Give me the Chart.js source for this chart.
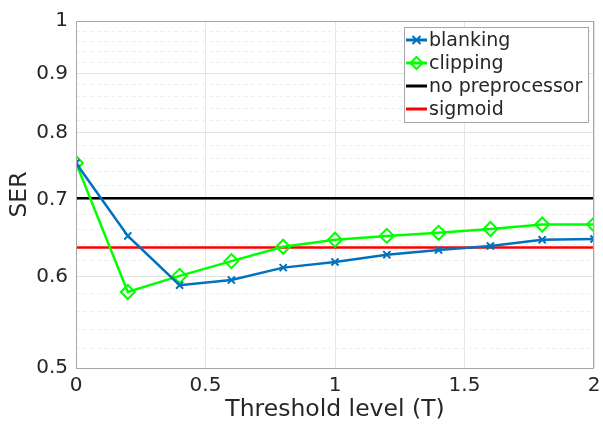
<!DOCTYPE html>
<html>
<head>
<meta charset="utf-8">
<script src="https://cdn.jsdelivr.net/npm/chart.js@4/dist/chart.umd.min.js"></script>
<style>
  html, body { margin: 0; padding: 0; background: #fff; }
  #wrap { width: 603px; height: 426px; }
</style>
</head>
<body>
<div id="wrap"><canvas id="serChart"></canvas></div>
<script>
// values
const thresholds = [0, 0.2, 0.4, 0.6, 0.8, 1.0, 1.2, 1.4, 1.6, 1.8, 2.0];
const blanking = [0.753, 0.651, 0.590, 0.596, 0.611, 0.618, 0.627, 0.633, 0.638, 0.646, 0.647];
const clipping = [0.753, 0.582, 0.601, 0.619, 0.637, 0.646, 0.651, 0.655, 0.660, 0.666, 0.666];
const noPreprocessor = [0.702, 0.702];
const sigmoid = [0.636, 0.636];
const lineRange = [0, 2];

const xTicks = [0, 0.5, 1, 1.5, 2];
const yMajorTicks = [0.5, 0.6, 0.7, 0.8, 0.9, 1];
const yMinorStep = 0.02;

const textColor = '#262626';
const axisColor = '#a6a6a6';

function pts(xs, ys) {
    return xs.map((x, i) => ({ x: x, y: ys[i] }));
}

// matlab style box round the plot area
const boxPlugin = {
    id: 'box',
    afterDraw(chart) {
        const a = chart.chartArea, ctx = chart.ctx;
        ctx.save();
        ctx.strokeStyle = axisColor;
        ctx.lineWidth = 1;
        ctx.strokeRect(a.left + 0.5, a.top + 0.5, a.right - a.left - 1, a.bottom - a.top);
        ctx.restore();
    }
};

// legend drawn inside the axes, top right
const innerLegend = {
    id: 'innerLegend',
    afterDraw(chart) {
        const a = chart.chartArea, ctx = chart.ctx;
        const sets = chart.data.datasets;
        const w = 184, rowH = 23;
        const h = sets.length * rowH + 3;
        const x0 = a.right - 6 - w, y0 = a.top + 6;
        ctx.save();
        ctx.fillStyle = '#fff';
        ctx.fillRect(x0, y0, w, h);
        ctx.strokeStyle = axisColor;
        ctx.lineWidth = 1;
        ctx.strokeRect(x0 + 0.5, y0 + 0.5, w, h);
        ctx.font = '19px "DejaVu Sans"';
        ctx.textBaseline = 'middle';
        sets.forEach((ds, i) => {
            const cy = y0 + 13 + i * rowH;
            const lx1 = x0 + 2, lx2 = x0 + 23, mx = (lx1 + lx2) / 2;
            ctx.strokeStyle = ds.borderColor;
            ctx.lineWidth = 3;
            ctx.beginPath();
            ctx.moveTo(lx1, cy);
            ctx.lineTo(lx2, cy);
            ctx.stroke();
            ctx.lineWidth = 2;
            if (ds.pointStyle === 'crossRot') {
                ctx.beginPath();
                ctx.moveTo(mx - 4, cy - 4); ctx.lineTo(mx + 4, cy + 4);
                ctx.moveTo(mx - 4, cy + 4); ctx.lineTo(mx + 4, cy - 4);
                ctx.stroke();
            } else if (ds.pointStyle === 'rectRot') {
                ctx.beginPath();
                ctx.moveTo(mx, cy - 6); ctx.lineTo(mx + 6, cy);
                ctx.lineTo(mx, cy + 6); ctx.lineTo(mx - 6, cy);
                ctx.closePath();
                ctx.stroke();
            }
            ctx.fillStyle = textColor;
            ctx.fillText(ds.label, x0 + 25, cy + 1);
        });
        ctx.restore();
    }
};

const ctx = document.getElementById('serChart').getContext('2d');

new Chart(ctx, {
    type: 'line',
    data: {
        datasets: [
            {
                label: 'blanking',
                data: pts(thresholds, blanking),
                borderColor: '#0072BD',
                backgroundColor: '#0072BD',
                borderWidth: 2.5,
                pointStyle: 'crossRot',
                pointRadius: 5,
                pointBorderWidth: 2,
                pointBorderColor: '#0072BD'
            },
            {
                label: 'clipping',
                data: pts(thresholds, clipping),
                borderColor: '#00FF00',
                backgroundColor: '#00FF00',
                borderWidth: 2.5,
                pointStyle: 'rectRot',
                pointRadius: 7,
                pointBorderWidth: 2,
                pointBorderColor: '#00FF00',
                pointBackgroundColor: 'rgba(0,0,0,0)'
            },
            {
                label: 'no preprocessor',
                data: pts(lineRange, noPreprocessor),
                borderColor: '#000000',
                borderWidth: 2.5,
                pointRadius: 0
            },
            {
                label: 'sigmoid',
                data: pts(lineRange, sigmoid),
                borderColor: '#FF0000',
                borderWidth: 2.5,
                pointRadius: 0
            }
        ]
    },
    options: {
        responsive: true,
        maintainAspectRatio: false,
        animation: false,
        events: [],
        layout: { padding: { left: 0, top: 21, right: 8, bottom: 0 } },
        plugins: {
            legend: { display: false },
            tooltip: { enabled: false }
        },
        scales: {
            x: {
                type: 'linear',
                min: 0,
                max: 2,
                afterBuildTicks: s => { s.ticks = xTicks.map(v => ({ value: v })); },
                afterFit: s => { s.height = 58; s.paddingLeft = 0; s.paddingRight = 0; },
                grid: { color: '#e6e6e6', drawTicks: false },
                border: { display: false },
                ticks: {
                    color: textColor,
                    font: { family: 'DejaVu Sans', size: 20 },
                    padding: 6,
                    maxRotation: 0,
                    callback: v => String(v)
                },
                title: {
                    display: true,
                    text: 'Threshold level (T)',
                    color: textColor,
                    font: { family: 'DejaVu Sans', size: 23.5 },
                    padding: { top: 0, bottom: 2 }
                }
            },
            y: {
                type: 'logarithmic',
                min: 0.5,
                max: 1,
                afterBuildTicks: s => {
                    const list = [];
                    for (let v = 0.5; v <= 1.0001; v += yMinorStep) {
                        const r = Math.round(v * 100) / 100;
                        list.push({ value: r, major: yMajorTicks.includes(r) });
                    }
                    s.ticks = list;
                },
                afterFit: s => { s.width = 76; s.paddingTop = 0; s.paddingBottom = 0; },
                grid: {
                    drawTicks: false,
                    color: c => (c.tick && c.tick.major) ? '#e3e3e3' : '#efefef'
                },
                border: {
                    display: false,
                    dash: c => (c.tick && c.tick.major) ? [] : [4, 3]
                },
                ticks: {
                    autoSkip: false,
                    color: textColor,
                    font: { family: 'DejaVu Sans', size: 20 },
                    padding: 8,
                    callback: function (v) {
                        const r = Math.round(v * 100) / 100;
                        return yMajorTicks.includes(r) ? String(r) : '';
                    }
                },
                title: {
                    display: true,
                    text: 'SER',
                    color: textColor,
                    font: { family: 'DejaVu Sans', size: 23.5 },
                    padding: { top: 6, bottom: 0 }
                }
            }
        }
    },
    plugins: [boxPlugin, innerLegend]
});
</script>
</body>
</html>
